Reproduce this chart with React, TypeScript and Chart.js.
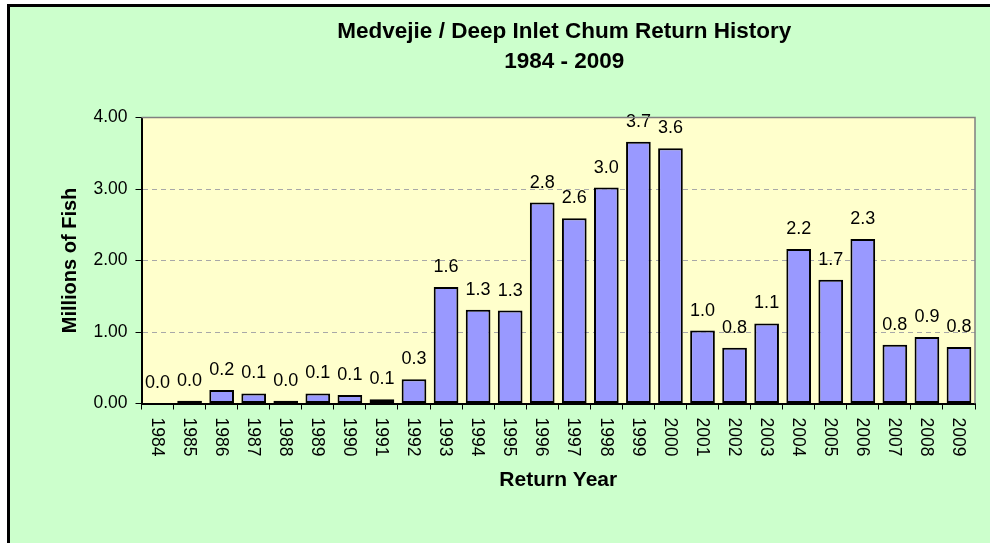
import React, { useEffect, useRef } from 'react';
import { Chart, registerables } from 'chart.js';

Chart.register(...registerables);

const titleLines = ['Medvejie / Deep Inlet Chum Return History', '1984 - 2009'];
const xTitle = 'Return Year';
const yTitle = 'Millions of Fish';

const years = [
  '1984', '1985', '1986', '1987', '1988', '1989', '1990', '1991', '1992',
  '1993', '1994', '1995', '1996', '1997', '1998', '1999', '2000', '2001',
  '2002', '2003', '2004', '2005', '2006', '2007', '2008', '2009',
];

const returnsMillions = [
  0, 0.04, 0.19, 0.14, 0.04, 0.14, 0.12, 0.06, 0.34,
  1.63, 1.31, 1.3, 2.81, 2.59, 3.02, 3.66, 3.57, 1.02,
  0.78, 1.12, 2.16, 1.73, 2.3, 0.82, 0.93, 0.79,
];

const yTickLabels = ['0.00', '1.00', '2.00', '3.00', '4.00'];

const FONT = '"Liberation Sans", Arial, sans-serif';

const plotBgPlugin = {
  id: 'plotBg',
  beforeDraw(chart: any) {
    const { ctx, chartArea: a } = chart;
    ctx.save();
    ctx.fillStyle = '#FFFFCC';
    ctx.fillRect(a.left, a.top, a.right - a.left, a.bottom - a.top);
    ctx.restore();
  },
  afterDraw(chart: any) {
    const { ctx, chartArea: a } = chart;
    ctx.save();
    ctx.strokeStyle = '#808080';
    ctx.lineWidth = 1.5;
    ctx.beginPath();
    ctx.moveTo(a.left, a.top);
    ctx.lineTo(a.right, a.top);
    ctx.lineTo(a.right, a.bottom);
    ctx.stroke();
    // chart title, centred just right of the plot centre as in the original
    ctx.fillStyle = '#000';
    ctx.font = `bold 22.5px ${FONT}`;
    ctx.textAlign = 'center';
    ctx.textBaseline = 'middle';
    const cx = (a.left + a.right) / 2 + 6;
    titleLines.forEach((line, i) => {
      ctx.fillText(line, cx, 32 + i * 30);
    });
    ctx.restore();
  },
};

const valueLabelPlugin = {
  id: 'valueLabels',
  afterDatasetsDraw(chart: any) {
    const { ctx } = chart;
    const meta = chart.getDatasetMeta(0);
    ctx.save();
    ctx.fillStyle = '#000';
    ctx.font = `18px ${FONT}`;
    ctx.textAlign = 'center';
    ctx.textBaseline = 'middle';
    meta.data.forEach((bar: any, i: number) => {
      ctx.fillText(returnsMillions[i].toFixed(1), bar.x, bar.y - 20);
    });
    ctx.restore();
  },
};

const xLabelPlugin = {
  id: 'xLabels',
  afterDraw(chart: any) {
    const { ctx } = chart;
    const xs = chart.scales.x;
    ctx.save();
    ctx.fillStyle = '#000';
    ctx.font = `17.5px ${FONT}`;
    ctx.textAlign = 'left';
    ctx.textBaseline = 'middle';
    years.forEach((y, i) => {
      const x = xs.getPixelForTick(i);
      ctx.save();
      ctx.translate(x - 1, xs.top + 14);
      ctx.rotate(Math.PI / 2);
      ctx.fillText(y, 0, 0);
      ctx.restore();
    });
    ctx.restore();
  },
};

export default function App() {
  const canvasRef = useRef<HTMLCanvasElement | null>(null);

  useEffect(() => {
    if (!canvasRef.current) return;
    const chart = new Chart(canvasRef.current, {
      type: 'bar',
      data: {
        labels: years,
        datasets: [
          {
            data: returnsMillions,
            backgroundColor: '#9999FF',
            borderColor: '#000000',
            borderWidth: 2,
            borderSkipped: false,
            barPercentage: 0.77,
            categoryPercentage: 1,
          },
        ],
      },
      options: {
        responsive: false,
        animation: false,
        devicePixelRatio: 1,
        layout: { padding: { left: 0, right: 15, top: 117.5, bottom: 0 } },
        plugins: {
          legend: { display: false },
          tooltip: { enabled: false },
          title: { display: false },
        },
        scales: {
          x: {
            type: 'category',
            offset: true,
            grid: {
              offset: true,
              drawOnChartArea: false,
              drawTicks: true,
              tickLength: 6,
              color: '#000',
              tickColor: '#000',
            },
            border: { display: true, color: '#000', width: 2 },
            ticks: { display: false },
            title: {
              display: true,
              text: xTitle,
              color: '#000',
              font: { family: FONT, size: 21, weight: 'bold', lineHeight: 1.2 },
              padding: { top: 0, bottom: 50.5 },
            },
            afterFit(scale: any) {
              scale.height = 139.5;
            },
          },
          y: {
            type: 'linear',
            min: 0,
            max: 4,
            ticks: {
              stepSize: 1,
              color: '#000',
              padding: 8,
              font: { family: FONT, size: 17.5 },
              callback: (_v: any, index: number) => yTickLabels[index],
            },
            grid: {
              drawTicks: true,
              tickLength: 6,
              tickColor: '#000',
              lineWidth: 1,
              color: (c: any) =>
                c.tick && (c.tick.value === 0 || c.tick.value === 4)
                  ? 'rgba(0,0,0,0)'
                  : '#A8A8A8',
            },
            border: { display: true, color: '#000', width: 2, dash: [5, 4] },
            title: {
              display: true,
              text: yTitle,
              color: '#000',
              font: { family: FONT, size: 20, weight: 'bold', lineHeight: 1.2 },
              padding: { top: 58, bottom: 0 },
            },
            afterFit(scale: any) {
              scale.width = 141.5;
            },
          },
        },
      },
      plugins: [plotBgPlugin, valueLabelPlugin, xLabelPlugin],
    } as any);
    return () => chart.destroy();
  }, []);

  return (
    <div
      style={{
        position: 'fixed',
        left: 0,
        top: 0,
        width: 990,
        height: 543,
        background: '#FFFFFF',
        overflow: 'hidden',
      }}
    >
      <div
        style={{
          position: 'absolute',
          left: 7,
          top: 4,
          width: 1100,
          height: 700,
          background: '#CCFFCC',
          borderLeft: '3px solid #000',
          borderTop: '3px solid #000',
        }}
      />
      <canvas
        ref={canvasRef}
        width={990}
        height={543}
        style={{ position: 'absolute', left: 0, top: 0, width: 990, height: 543 }}
      />
    </div>
  );
}
